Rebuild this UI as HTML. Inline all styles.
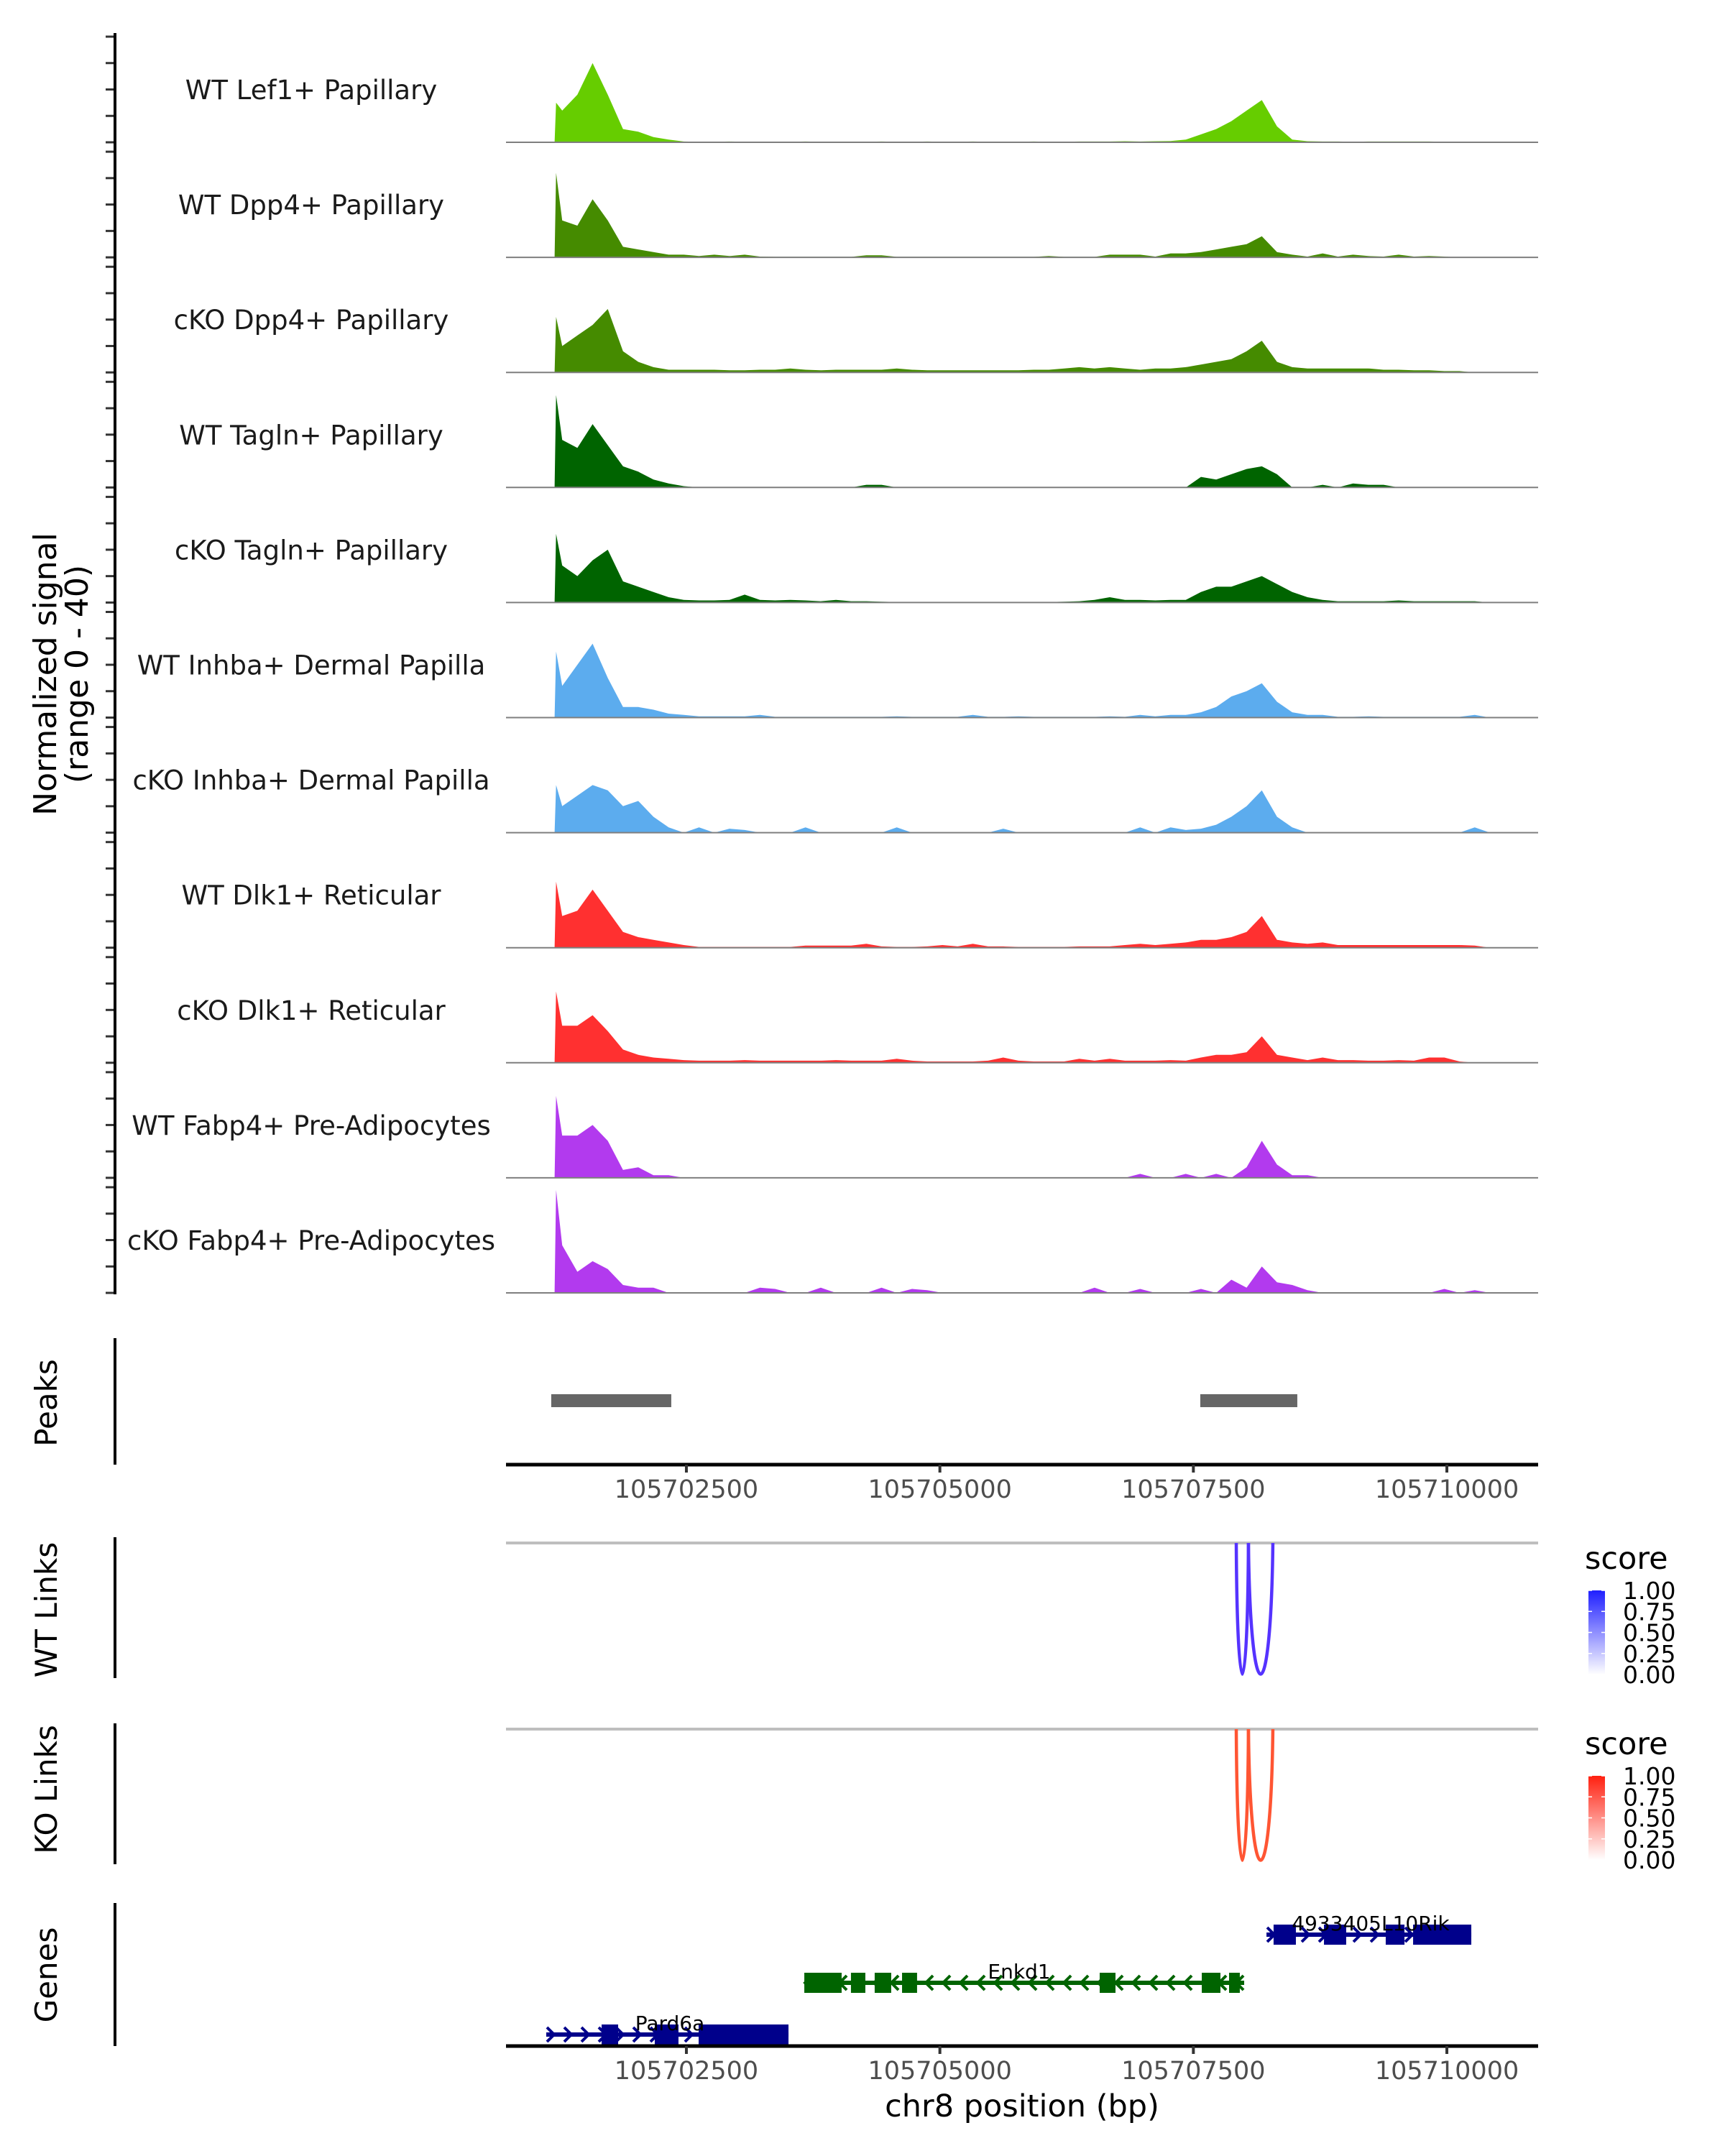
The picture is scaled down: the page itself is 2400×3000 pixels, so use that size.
<!DOCTYPE html>
<html><head><meta charset="utf-8">
<style>
html,body{margin:0;padding:0;background:#fff;}
svg{display:block;font-family:"DejaVu Sans","Liberation Sans",sans-serif;}
</style></head>
<body>
<svg id="chart" width="2400" height="3000" viewBox="0 0 2400 3000" xmlns="http://www.w3.org/2000/svg">
<defs>
<linearGradient id="gBlue" x1="0" y1="1" x2="0" y2="0"><stop offset="0" stop-color="#ffffff"/><stop offset="1" stop-color="#1f1fff"/></linearGradient>
<linearGradient id="gRed" x1="0" y1="1" x2="0" y2="0"><stop offset="0" stop-color="#ffffff"/><stop offset="1" stop-color="#ff2010"/></linearGradient>
</defs>
<g id="tracks"></g>
<g id="axes"></g>
</svg>
<script>
// ---- data ----
const binStart = 105701200;
const binSize = 150;
const spikePos = 105701215;
const trackNames = ["WT Lef1+ Papillary","WT Dpp4+ Papillary","cKO Dpp4+ Papillary","WT Tagln+ Papillary","cKO Tagln+ Papillary","WT Inhba+ Dermal Papilla","cKO Inhba+ Dermal Papilla","WT Dlk1+ Reticular","cKO Dlk1+ Reticular","WT Fabp4+ Pre-Adipocytes","cKO Fabp4+ Pre-Adipocytes"];
const trackColors = ["#66cd00","#458b00","#458b00","#006400","#006400","#5cacee","#5cacee","#ff3030","#ff3030","#b23aee","#b23aee"];
const leadSpike = [15,32,21,35,26,25,18,25,27,31,39];
const sigLef1WT = [12,18,30,18,5,4,2,1,0.3,0.2,0.2,0.3,0.2,0.2,0.2,0.2,0.3,0.2,0.2,0.2,0.2,0.3,0.2,0.2,0.3,0.2,0.2,0.3,0.2,0.2,0.2,0.3,0.2,0.2,0.3,0.3,0.3,0.4,0.3,0.4,0.5,1,3,5,8,12,16,6,1,0.4,0.3,0.3,0.2,0.3,0.3,0.3,0.3,0.3,0.2,0,0,0];
const sigDpp4WT = [14,12,22,14,4,3,2,1,1,0.5,1,0.5,1,0.3,0.2,0.2,0.2,0.2,0.2,0.2,0.8,0.8,0.2,0.2,0.2,0.2,0.2,0.2,0.2,0.2,0.2,0.2,0.5,0.2,0.2,0.2,1,1,1,0.3,1.5,1.5,2,3,4,5,8,2,1,0.3,1.5,0.3,1,0.5,0.3,1,0.3,0.5,0.3,0,0,0];
const sigDpp4KO = [10,14,18,24,8,4,2,1,1,1,1,0.8,0.8,1,1,1.5,1,0.8,1,1,1,1,1.5,1,0.8,0.8,0.8,0.8,0.8,0.8,0.8,1,1,1.5,2,1.5,2,1.5,1,1.5,1.5,2,3,4,5,8,12,4,2,1.5,1.5,1.5,1.5,1.5,1,1,0.8,0.8,0.5,0.5,0,0];
const sigTaglnWT = [18,15,24,16,8,6,3,1.5,0.5,0,0,0,0,0,0,0,0,0,0,0,1,1,0,0,0,0,0,0,0,0,0,0,0,0,0,0,0,0,0,0,0,0,4,3,5,7,8,5,0,0,1,0,1.5,1,1,0,0,0,0,0,0,0];
const sigTaglnKO = [14,10,16,20,8,6,4,2,1,0.8,0.8,1,3,1,0.8,1,0.8,0.5,1,0.5,0.5,0.3,0.2,0.2,0.2,0.2,0.2,0.2,0.2,0.2,0.2,0.2,0.2,0.3,0.5,1,2,1,1,0.8,1,1,4,6,6,8,10,7,4,2,1,0.5,0.5,0.5,0.5,0.8,0.5,0.5,0.5,0.5,0.5,0];
const sigInhbaWT = [12,20,28,15,4,4,3,1.5,1,0.5,0.5,0.5,0.5,1,0.3,0.3,0.3,0.3,0.3,0.3,0.3,0.3,0.5,0.3,0.3,0.3,0.3,1,0.3,0.3,0.5,0.3,0.3,0.3,0.3,0.3,0.5,0.3,1,0.5,1,1,2,4,8,10,13,6,2,1,1,0.3,0.3,0.5,0.3,0.3,0.3,0.3,0.3,0.3,1,0];
const sigInhbaKO = [10,14,18,16,10,12,6,2,0,2,0,1.5,1,0,0,0,2,0,0,0,0,0,2,0,0,0,0,0,0,1.5,0,0,0,0,0,0,0,0,2,0,2,1,1.5,3,6,10,16,6,2,0,0,0,0,0,0,0,0,0,0,0,2,0];
const sigDlk1WT = [12,14,22,14,6,4,3,2,1,0.3,0.3,0.3,0.3,0.3,0.3,0.3,0.8,0.8,0.8,0.8,1.5,0.5,0.3,0.3,0.5,1,0.5,1.5,0.5,0.5,0.3,0.3,0.3,0.3,0.5,0.5,0.5,1,1.5,1,1.5,2,3,3,4,6,12,3,2,1.5,2,1,1,1,1,1,1,1,1,1,0.8,0];
const sigDlk1KO = [14,14,18,12,5,3,2,1.5,1,0.8,0.8,0.8,1,0.8,0.8,0.8,0.8,0.8,1,0.8,0.8,0.8,1.5,0.8,0.5,0.5,0.5,0.5,0.8,2,0.8,0.5,0.5,0.5,1.5,0.8,1.5,0.8,0.8,0.8,1,0.8,2,3,3,4,10,3,2,1,2,1,1,0.8,0.8,1,0.8,2,2,0.5,0,0];
const sigFabp4WT = [16,16,20,14,3,4,1,1,0,0,0,0,0,0,0,0,0,0,0,0,0,0,0,0,0,0,0,0,0,0,0,0,0,0,0,0,0,0,1.5,0,0,1.5,0,1.5,0,4,14,5,1,1,0,0,0,0,0,0,0,0,0,0,0,0];
const sigFabp4KO = [18,8,12,9,3,2,2,0,0,0,0,0,0,2,1.5,0,0,2,0,0,0,2,0,1.5,1,0,0,0,0,0,0,0,0,0,0,2,0,0,1.5,0,0,0,1.5,0,5,2,10,4,3,1,0,0,0,0,0,0,0,0,1.5,0,1,0];
const signals = [sigLef1WT,sigDpp4WT,sigDpp4KO,sigTaglnWT,sigTaglnKO,sigInhbaWT,sigInhbaKO,sigDlk1WT,sigDlk1KO,sigFabp4WT,sigFabp4KO];
const yTicks = [0,10,20,30,40];
const xTicks = [105702500,105705000,105707500,105710000];
const peakStarts = [105701167,105707568];
const peakEnds = [105702351,105708525];
const wtLinkStarts = [105707923,105708043];
const wtLinkEnds = [105708043,105708284];
const wtLinkScores = [0.8,0.8];
const koLinkStarts = [105707923,105708043];
const koLinkEnds = [105708043,105708284];
const koLinkScores = [0.8,0.8];
const legendTicks = ["1.00","0.75","0.50","0.25","0.00"];
const geneNames = ["Pard6a","Enkd1","4933405L10Rik"];
const geneStrands = [1,-1,1];
const geneStarts = [105701118,105703663,105708221];
const geneEnds = [105703507,105708001,105710241];
const pard6aExons = [[105701664,105701827],[105702188,105702422],[105702621,105703507]];
const enkd1Exons = [[105703663,105704031],[105704123,105704265],[105704357,105704520],[105704627,105704775],[105706576,105706732],[105707583,105707767],[105707852,105707958]];
const rikExons = [[105708291,105708511],[105708788,105709007],[105709397,105709582],[105709667,105710241]];
const geneExons = [pard6aExons,enkd1Exons,rikExons];

// ---- scales ----
const X0 = 704, X1 = 2140, DOM0 = 105700721, DOM1 = 105710900;
function xs(bp){ return X0 + (bp-DOM0)/(DOM1-DOM0)*(X1-X0); }
const TRACK_BASE0 = 198, TRACK_GAP = 160.1, TRACK_H = 147, YMAX = 40;
function ys(k,v){ return TRACK_BASE0 + k*TRACK_GAP - v/YMAX*TRACK_H; }

const NS = "http://www.w3.org/2000/svg";
const svg = document.getElementById('chart');
const gT = document.getElementById('tracks');
function mk(tag, attrs, parent){ const e=document.createElementNS(NS,tag); for(const k in attrs) e.setAttribute(k,attrs[k]); (parent||svg).appendChild(e); return e; }

// ---- coverage tracks ----
signals.forEach((vals,k)=>{
  const base = ys(k,0);
  const sx = xs(spikePos);
  let d = "M"+xs(binStart).toFixed(1)+","+base;
  d += " L"+sx.toFixed(1)+","+ys(k,leadSpike[k]).toFixed(1);
  vals.forEach((v,i)=>{
    const c = xs(binStart+(i+0.5)*binSize);
    d += " L"+c.toFixed(1)+","+ys(k,v).toFixed(1);
  });
  d += " L"+xs(binStart+vals.length*binSize).toFixed(1)+","+base+" Z";
  const p = mk('path',{d:d,fill:trackColors[k]},gT);
  
  
  const bl = mk('line',{x1:X0,x2:X1,y1:base,y2:base,stroke:"#7f7f7f","stroke-width":2},gT);
  
  
  const t = mk('text',{x:433,y:base-60,"text-anchor":"middle","font-size":37,fill:"#1a1a1a"},gT);
  t.textContent = trackNames[k];
  
  
  yTicks.forEach(tv=>{
    const ty = ys(k,tv);
    const tk = mk('line',{x1:147,x2:160,y1:ty,y2:ty,stroke:"#333","stroke-width":3});
    
    
  });
});
const yAxis = mk('line',{x1:160,x2:160,y1:46,y2:ys(signals.length-1,0)+2,stroke:"#000","stroke-width":4});



function rotTitle(txt,x,y,name,fs){
  const t = mk('text',{x:x,y:y,"text-anchor":"middle","font-size":fs||42,fill:"#000",transform:"rotate(-90 "+x+" "+y+")"});
  t.textContent = txt;
  
  
}
rotTitle("Normalized signal",78,938,"y-axis-title",44);
rotTitle("(range 0 - 40)",122,938,"y-axis-title-range",44);

// ---- peaks ----
rotTitle("Peaks",79,1952,"peaks-title");
mk('line',{x1:160,x2:160,y1:1862,y2:2038,stroke:"#000","stroke-width":4});
peakStarts.forEach((s,i)=>{
  const r = mk('rect',{x:xs(s),y:1940,width:xs(peakEnds[i])-xs(s),height:18,fill:"#666666"});
  
  
});
function xAxis(y,name){
  const l = mk('line',{x1:X0,x2:X1,y1:y,y2:y,stroke:"#000","stroke-width":5});
  
  
  xTicks.forEach(tv=>{
    const tk = mk('line',{x1:xs(tv),x2:xs(tv),y1:y,y2:y+11,stroke:"#333","stroke-width":4});
    
    
    const t = mk('text',{x:xs(tv),y:y+46,"text-anchor":"middle","font-size":35,fill:"#4d4d4d"});
    t.textContent = tv;
    
    
  });
}
xAxis(2038,"peaks-x-axis");

// ---- links ----
function linkPanel(top,bottom,starts,ends,scores,col,grad,title,titleY,legendTop){
  rotTitle(title,79,titleY,title.toLowerCase().replace(' ','-')+"-title");
  mk('line',{x1:160,x2:160,y1:top-8,y2:bottom+5,stroke:"#000","stroke-width":4});
  const gl = mk('line',{x1:X0,x2:X1,y1:top,y2:top,stroke:"#bebebe","stroke-width":4});
  
  
  starts.forEach((s,i)=>{
    const a = xs(s), b = xs(ends[i]), depth = (bottom-top)*scores[i]/0.8;
    const d = "M"+a+","+top+" C"+(a+(b-a)*0.08)+","+(top+depth*1.33)+" "+(b-(b-a)*0.08)+","+(top+depth*1.33)+" "+b+","+top;
    const p = mk('path',{d:d,fill:"none",stroke:col,"stroke-width":4.5});
    
    
  });
  const lt = mk('text',{x:2205,y:legendTop-30,"font-size":43,fill:"#000"});
  lt.textContent = "score";
  
  
  const cb = mk('rect',{x:2210,y:legendTop,width:23,height:117,fill:"url(#"+grad+")"});
  
  
  legendTicks.forEach((lab,i)=>{
    const ty = legendTop + i*29.25;
    mk('line',{x1:2210,x2:2215,y1:ty,y2:ty,stroke:"#fff","stroke-width":1.5});
    mk('line',{x1:2228,x2:2233,y1:ty,y2:ty,stroke:"#fff","stroke-width":1.5});
    const t = mk('text',{x:2258,y:ty+12,"font-size":33,fill:"#000"});
    t.textContent = lab;
    
    
  });
}
linkPanel(2147,2330,wtLinkStarts,wtLinkEnds,wtLinkScores,"#5533ff","gBlue","WT Links",2240,2213);
linkPanel(2406,2589,koLinkStarts,koLinkEnds,koLinkScores,"#ff5533","gRed","KO Links",2490,2471);

// ---- genes ----
rotTitle("Genes",79,2748,"genes-title");
mk('line',{x1:160,x2:160,y1:2648,y2:2847,stroke:"#000","stroke-width":4});
const geneY = [2831,2759,2692];
const geneCols = ["#00008b","#006400","#00008b"];
geneNames.forEach((nm,g)=>{
  const y = geneY[g], col = geneCols[g];
  const a = xs(geneStarts[g]), b = xs(geneEnds[g]);
  const ln = mk('line',{x1:a,x2:b,y1:y,y2:y,stroke:col,"stroke-width":6});
  
  
  for(let x=a+6; x<b-4; x+=24){
    const dir = geneStrands[g];
    const d = dir>0 ? "M"+(x-5)+","+(y-10)+" L"+(x+5)+","+y+" L"+(x-5)+","+(y+10)
                    : "M"+(x+5)+","+(y-10)+" L"+(x-5)+","+y+" L"+(x+5)+","+(y+10);
    mk('path',{d:d,fill:"none",stroke:col,"stroke-width":4});
  }
  geneExons[g].forEach(ex=>{
    const r = mk('rect',{x:xs(ex[0]),y:y-14,width:xs(ex[1])-xs(ex[0]),height:28,fill:col});
    
    
  });
  const lx = g===0 ? 932 : (g===1 ? 1418 : 1907);
  const t = mk('text',{x:lx,y:y-6,"text-anchor":"middle","font-size":28,fill:"#000"});
  t.textContent = nm;
  
  
});
xAxis(2847,"genes-x-axis");
const xt = mk('text',{x:1422,y:2945,"text-anchor":"middle","font-size":43,fill:"#000"});
xt.textContent = "chr8 position (bp)";


</script>
</body></html>
